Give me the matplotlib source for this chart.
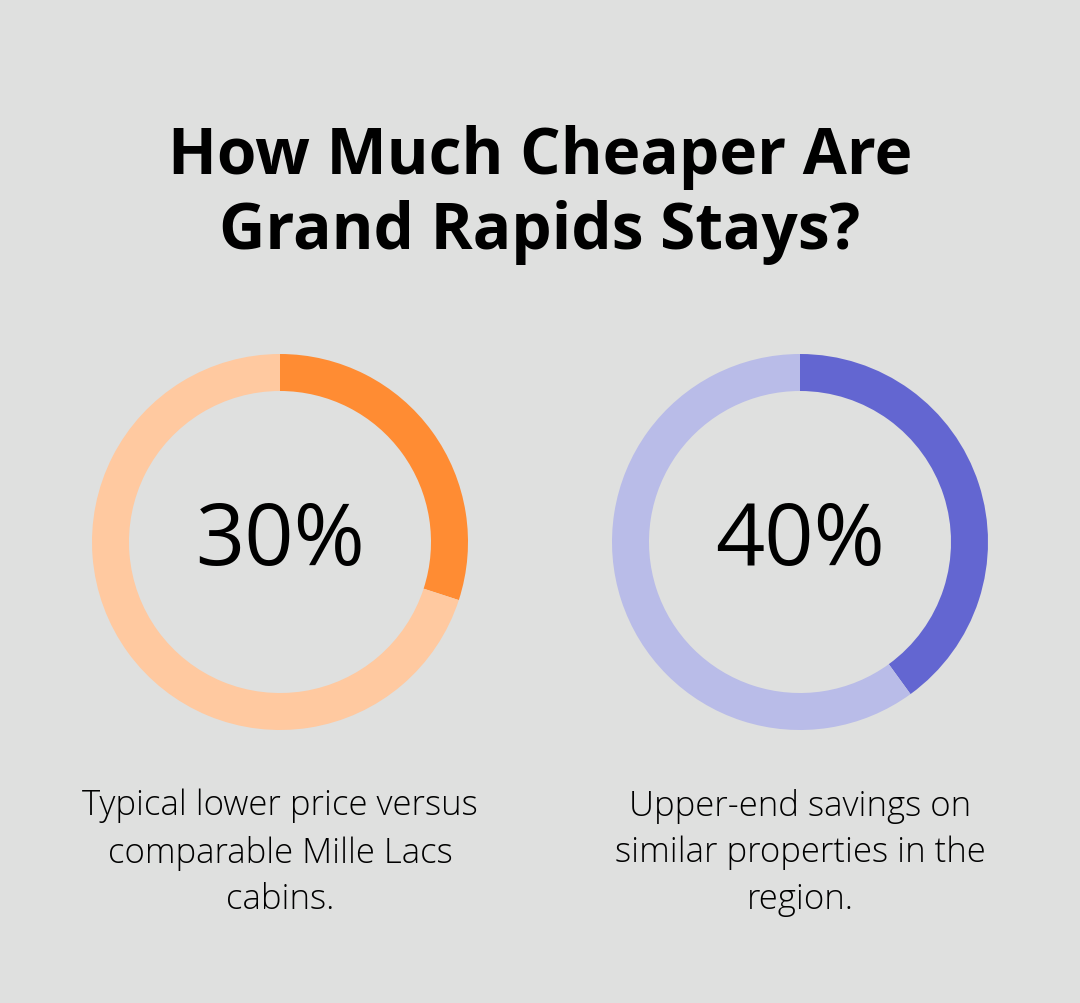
import matplotlib
matplotlib.use("Agg")
import matplotlib.pyplot as plt

title = "How Much Cheaper Are\nGrand Rapids Stays?"
values = [30, 40]
labels = ["30%", "40%"]
descriptions = ["Typical lower price versus\ncomparable Mille Lacs\ncabins.",
                "Upper-end savings on\nsimilar properties in the\nregion."]
main_colors = ["#FF8C33", "#6366D1"]
light_colors = ["#FFC9A0", "#B9BCE8"]
centers_x = [280, 800]

W, H = 1080, 1004
fig = plt.figure(figsize=(W/100, H/100), dpi=100)
fig.patch.set_facecolor("#DFE0DF")
ax = fig.add_axes([0, 0, 1, 1])
ax.set_xlim(0, W); ax.set_ylim(0, H); ax.set_aspect("equal"); ax.axis("off")

fig.text(0.5, 1 - 195/H, title, ha="center", va="center", fontsize=46,
         fontweight="bold", family="Open Sans", linespacing=1.2)

cy = H - 543
for v, lab, desc, mc, lc, cx in zip(values, labels, descriptions, main_colors, light_colors, centers_x):
    ax.pie([v, 100 - v], colors=[mc, lc], startangle=90, counterclock=False,
           center=(cx, cy), radius=188, wedgeprops=dict(width=37, linewidth=0))
    ax.text(cx, cy, lab, ha="center", va="center", fontsize=62, family="Open Sans")
    ax.text(cx, H - 853, desc, ha="center", va="center", fontsize=25,
            family="Open Sans", fontweight="light", linespacing=1.45)

ax.set_xlim(0, W); ax.set_ylim(0, H); ax.set_aspect("equal")
fig.savefig("out.png", dpi=100, facecolor=fig.get_facecolor())
